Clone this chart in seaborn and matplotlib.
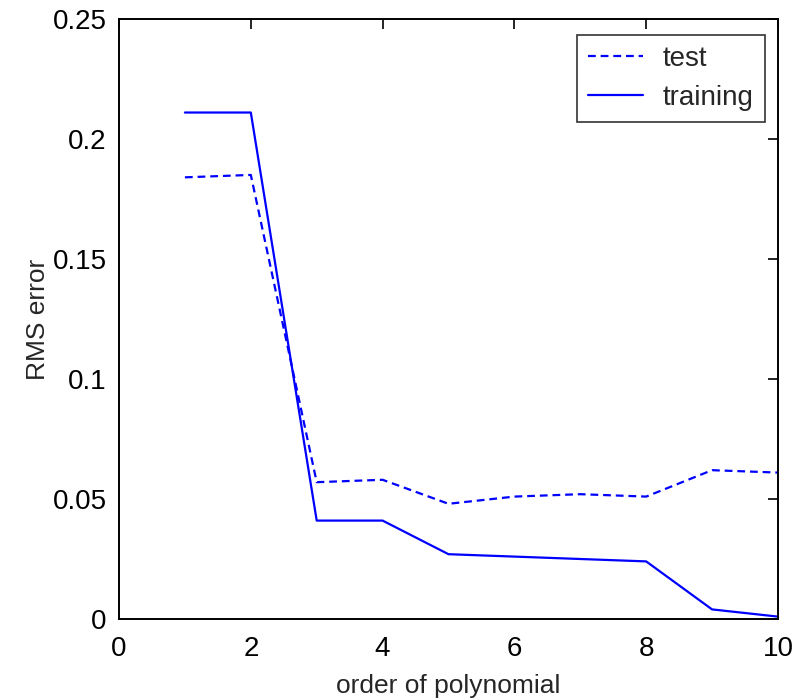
import matplotlib
matplotlib.use("Agg")
import matplotlib.pyplot as plt
import seaborn as sns
import pandas as pd

order = [1, 2, 3, 4, 5, 6, 7, 8, 9, 10]
test_rms = [0.184, 0.185, 0.057, 0.058, 0.048, 0.051, 0.052, 0.051, 0.062, 0.061]
train_rms = [0.211, 0.211, 0.041, 0.041, 0.027, 0.026, 0.025, 0.024, 0.004, 0.001]
xticks = [0, 2, 4, 6, 8, 10]
yticks = [0, 0.05, 0.1, 0.15, 0.2, 0.25]
ytick_labels = ["0", "0.05", "0.1", "0.15", "0.2", "0.25"]

sns.set_style("white")
plt.rcParams["font.family"] = ["Liberation Sans", "DejaVu Sans"]

df = pd.DataFrame({
    "order": order * 2,
    "rms": test_rms + train_rms,
    "series": ["test"] * len(order) + ["training"] * len(order),
})

fig = plt.figure(figsize=(8.07, 7.0), dpi=100)
ax = fig.add_axes([0.1475, 0.1157, 0.8165, 0.8573])
sns.lineplot(data=df, x="order", y="rms", style="series",
             dashes={"test": (3.5, 2.2), "training": ""},
             color="#0000ff", linewidth=1.6, ax=ax)

ax.set_xlim(0, 10)
ax.set_ylim(0, 0.25)
ax.set_xticks(xticks)
ax.set_xticklabels([str(t) for t in xticks])
ax.set_yticks(yticks)
ax.set_yticklabels(ytick_labels)
ax.tick_params(axis="both", direction="in", length=7, width=1.2, top=True, right=True,
               labelsize=20, colors="black")
ax.tick_params(axis="x", pad=12)
ax.tick_params(axis="y", pad=9)
for s in ax.spines.values():
    s.set_color("black")
    s.set_linewidth(1.4)
ax.set_xlabel("order of polynomial", fontsize=19, labelpad=9)
ax.set_ylabel("RMS error", fontsize=19, labelpad=2)

leg = ax.legend(loc="upper right", fontsize=20, frameon=True, fancybox=False,
                edgecolor="black", borderpad=0.4, handlelength=2.0, handletextpad=0.7,
                borderaxespad=0, bbox_to_anchor=(0.98, 0.973), title=None,
                labelspacing=0.45)
leg.get_frame().set_linewidth(1.2)

fig.savefig("out.png", dpi=100)
